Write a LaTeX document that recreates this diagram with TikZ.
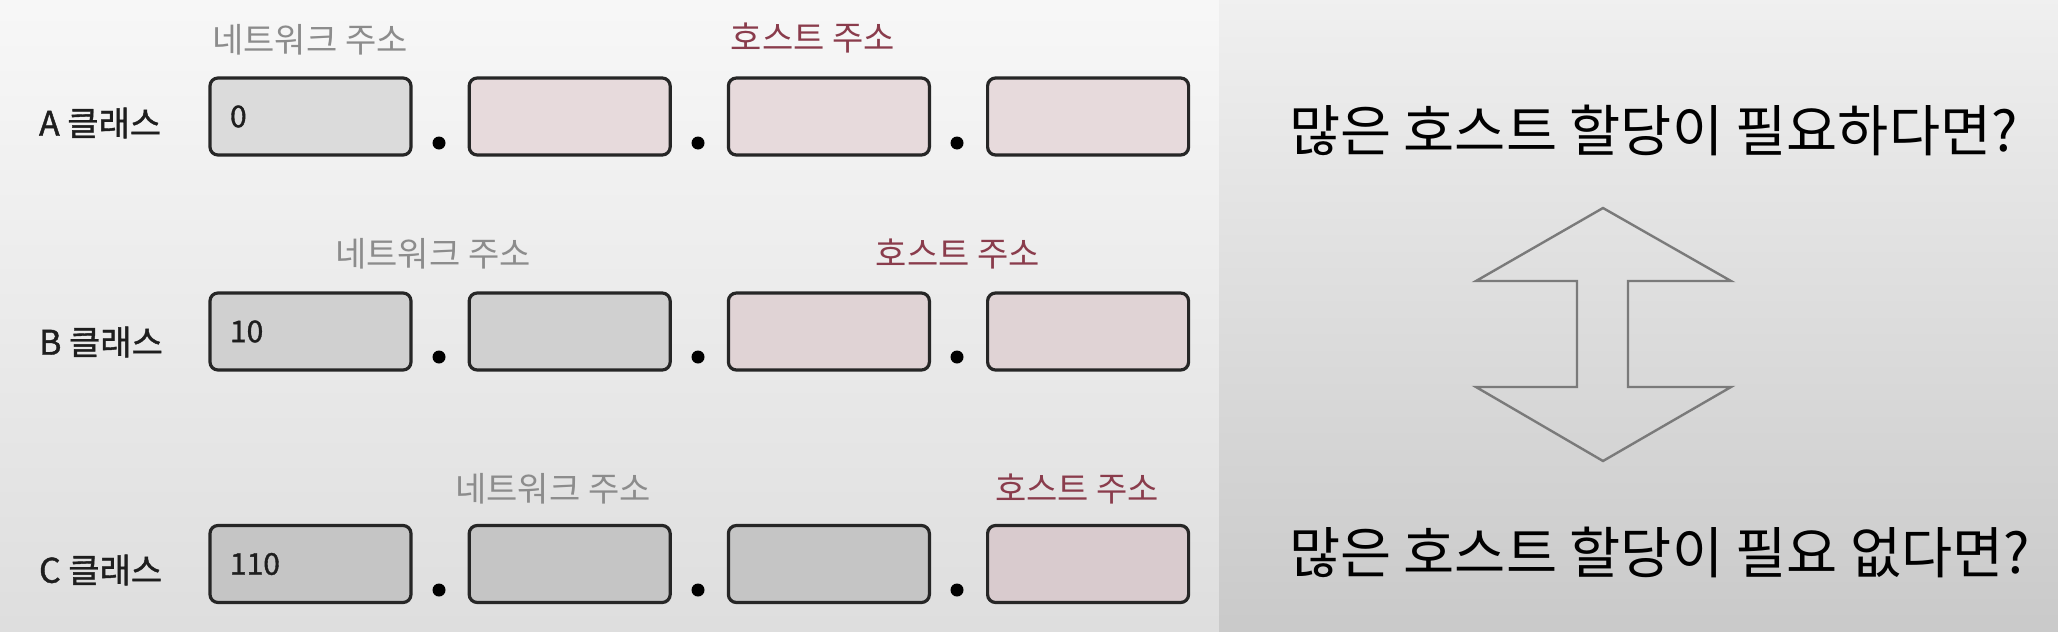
\documentclass[tikz,border=0pt]{standalone}
\usepackage{fontspec}
\newfontfamily\kr{Noto Sans CJK KR}
\newfontfamily\krheavy[FakeBold=1.2]{Noto Sans CJK KR}
\usetikzlibrary{positioning}

\definecolor{inkdark}{HTML}{1E1E1E}
\definecolor{netgray}{HTML}{8C8C8C}
\definecolor{hostred}{HTML}{8A3C4C}
\definecolor{boxline}{HTML}{262626}
\definecolor{arrowgray}{HTML}{7A7A7A}
\definecolor{netA}{HTML}{DBDBDB}
\definecolor{hostA}{HTML}{E7DADC}
\definecolor{netB}{HTML}{D0D0D0}
\definecolor{hostB}{HTML}{E0D3D5}
\definecolor{netC}{HTML}{C5C5C5}
\definecolor{hostC}{HTML}{D9CBCE}

\tikzset{
  addrbox/.style={draw=boxline, line width=1.6pt, rounded corners=4pt,
    minimum width=100.5pt, minimum height=38.5pt, text width=80.5pt,
    inner xsep=10pt, align=left, text=inkdark,
    font=\krheavy\fontsize{15}{15}\selectfont},
  netbox/.style={addrbox, fill=#1},
  hostbox/.style={addrbox, fill=#1},
  sep/.style={circle, fill=black, inner sep=0pt, minimum size=6.5pt},
  classname/.style={anchor=west, text=inkdark, font=\krheavy\fontsize{17}{17}\selectfont},
  netlabel/.style={text=netgray, font=\kr\fontsize{17}{17}\selectfont},
  hostlabel/.style={text=hostred, font=\kr\fontsize{17}{17}\selectfont},
  question/.style={anchor=west, text=black, font=\kr\fontsize{27.8}{27.8}\selectfont}
}

\begin{document}
\begin{tikzpicture}[x=0.5pt, y=-0.5pt]
  \useasboundingbox (0,0) rectangle (2058,632);
  % backgrounds
  \shade[top color=white!97!black, bottom color=white!87!black] (0,0) rectangle (1219,632);
  \shade[top color=white!94!black, bottom color=white!79!black] (1219,0) rectangle (2058,632);

  % A class
  \node[classname] (acls) at (32,123) {A 클래스};
  \node[netbox=netA] (a1) at (310.5,116.5) {0};
  \node[hostbox=hostA, right=27.5pt of a1] (a2) {};
  \node[hostbox=hostA, right=27.5pt of a2] (a3) {};
  \node[hostbox=hostA, right=27.5pt of a3] (a4) {};
  \node[sep] (da1) at (439,143) {};
  \node[sep] (da2) at (698,143) {};
  \node[sep] (da3) at (957,143) {};
  \node[netlabel] (anet) at (310,40) {네트워크 주소};
  \node[hostlabel] (ahost) at (813,38) {호스트 주소};

  % B class
  \node[classname] (bcls) at (32,342) {B 클래스};
  \node[netbox=netB] (b1) at (310.5,331.5) {10};
  \node[netbox=netB, right=27.5pt of b1] (b2) {};
  \node[hostbox=hostB, right=27.5pt of b2] (b3) {};
  \node[hostbox=hostB, right=27.5pt of b3] (b4) {};
  \node[sep] (db1) at (439,357) {};
  \node[sep] (db2) at (698,357) {};
  \node[sep] (db3) at (957,357) {};
  \node[netlabel] (bnet) at (433,254) {네트워크 주소};
  \node[hostlabel] (bhost) at (958,254) {호스트 주소};

  % C class
  \node[classname] (ccls) at (32,570) {C 클래스};
  \node[netbox=netC] (c1) at (310.5,564) {110};
  \node[netbox=netC, right=27.5pt of c1] (c2) {};
  \node[netbox=netC, right=27.5pt of c2] (c3) {};
  \node[hostbox=hostC, right=27.5pt of c3] (c4) {};
  \node[sep] (dc1) at (439,590) {};
  \node[sep] (dc2) at (698,590) {};
  \node[sep] (dc3) at (957,590) {};
  \node[netlabel] (cnet) at (553,489) {네트워크 주소};
  \node[hostlabel] (chost) at (1077,489) {호스트 주소};

  % right side
  \node[question] (many) at (1282,130) {많은 호스트 할당이 필요하다면?};
  \node[question] (few) at (1282,552) {많은 호스트 할당이 필요 없다면?};
  \draw[arrowgray, line width=1.2pt, line join=miter]
    (1603,208) -- (1731,281) -- (1628,281) -- (1628,387) -- (1731,387)
    -- (1603,461) -- (1476,387) -- (1577,387) -- (1577,281) -- (1476,281) -- cycle;
\end{tikzpicture}
\end{document}
